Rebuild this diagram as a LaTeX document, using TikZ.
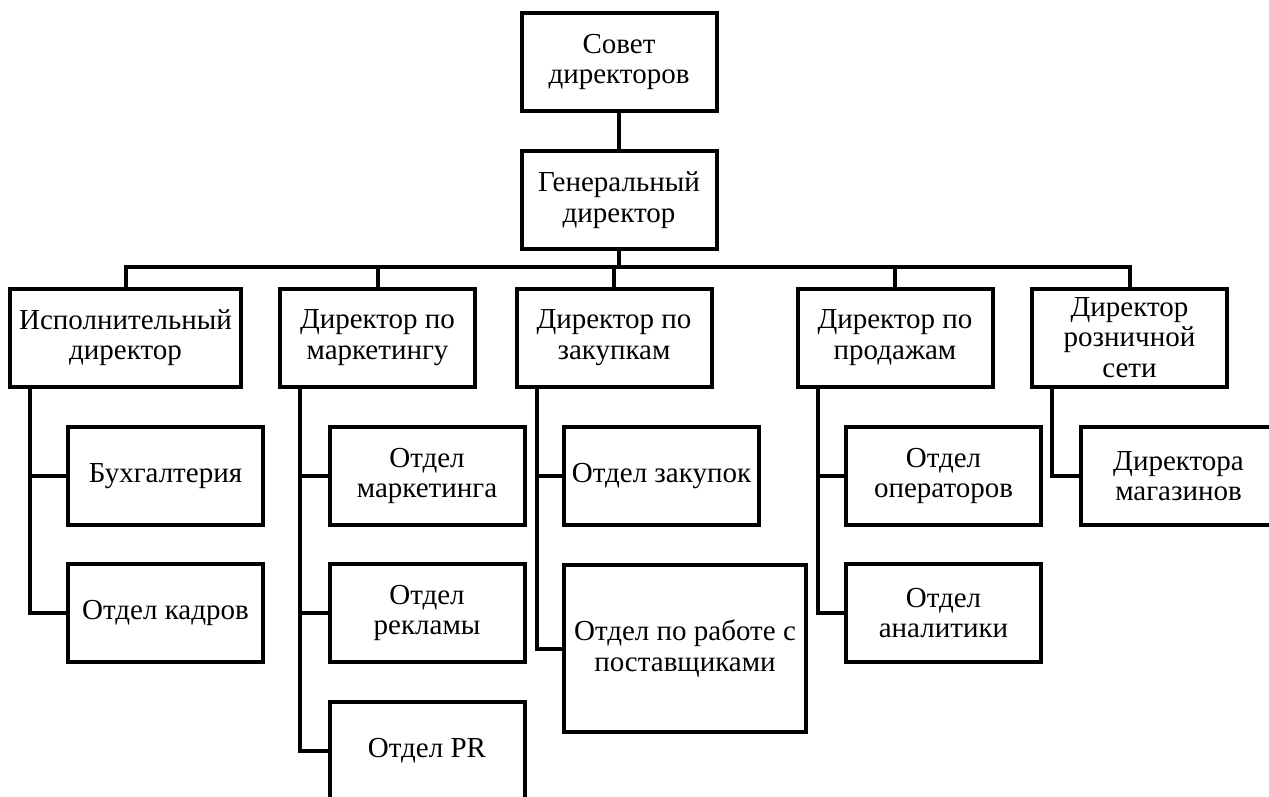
\documentclass[tikz,border=0pt]{standalone}
\usepackage{fontspec}
\setmainfont{Liberation Serif}
\usetikzlibrary{positioning}

\begin{document}
\begin{tikzpicture}[
  x=1pt, y=1pt,
  box/.style={rectangle, draw=black, line width=4pt, fill=white, minimum width=195pt, minimum height=98pt, inner sep=0pt, outer sep=0pt, align=center, font=\fontsize{29}{30.5}\selectfont},
  widebox/.style={box, minimum width=231pt},
  link/.style={line width=4pt}
]
\clip (0,0) rectangle (1269,-796);

% --- TOP: BOARD AND GENERAL DIRECTOR ---
\node[box] (sovet) at (619,-62) {Совет\\директоров};
\node[box] (gen) at (619,-200) {Генеральный\\директор};
\draw[link] (sovet) -- (gen);

% --- SECOND LEVEL: DIRECTORS ---
\node[widebox] (isp) at (125.5,-337.5) {Исполнительный\\директор};
\node[box] (mark) at (377.5,-337.5) {Директор по\\маркетингу};
\node[box] (zak) at (614,-337.5) {Директор по\\закупкам};
\node[box] (prod) at (895,-337.5) {Директор по\\продажам};
\node[box] (rozn) at (1129.5,-337.5) {Директор\\розничной\\сети};

% Connect general director to directors
\foreach \n in {isp,mark,zak,prod,rozn} {
  \draw[link] (gen.south) -- ++(0,-18) -| (\n.north);
}

% --- THIRD LEVEL: DEPARTMENTS ---
\node[box] (buh) at (165.5,-476) {Бухгалтерия};
\node[box, below=39pt of buh] (kadr) {Отдел кадров};

\node[box] (omark) at (427,-476) {Отдел\\маркетинга};
\node[box, below=39pt of omark] (rekl) {Отдел\\рекламы};
\node[box, below=40pt of rekl] (pr) {Отдел PR};

\node[box] (ozak) at (661.5,-476) {Отдел закупок};
\node[box, minimum width=242pt, minimum height=167pt] (postav) at (685,-648.5) {Отдел по работе с\\поставщиками};

\node[box] (oper) at (943.5,-476) {Отдел\\операторов};
\node[box, below=39pt of oper] (anal) {Отдел\\аналитики};

\node[box] (magaz) at (1178.5,-476) {Директора\\магазинов};

% Connect directors to departments
\foreach \p/\c in {isp/buh,isp/kadr,mark/omark,mark/rekl,mark/pr,zak/ozak,zak/postav,prod/oper,prod/anal,rozn/magaz} {
  \draw[link] ([xshift=20pt]\p.south west) |- (\c.west);
}

\end{tikzpicture}
\end{document}
